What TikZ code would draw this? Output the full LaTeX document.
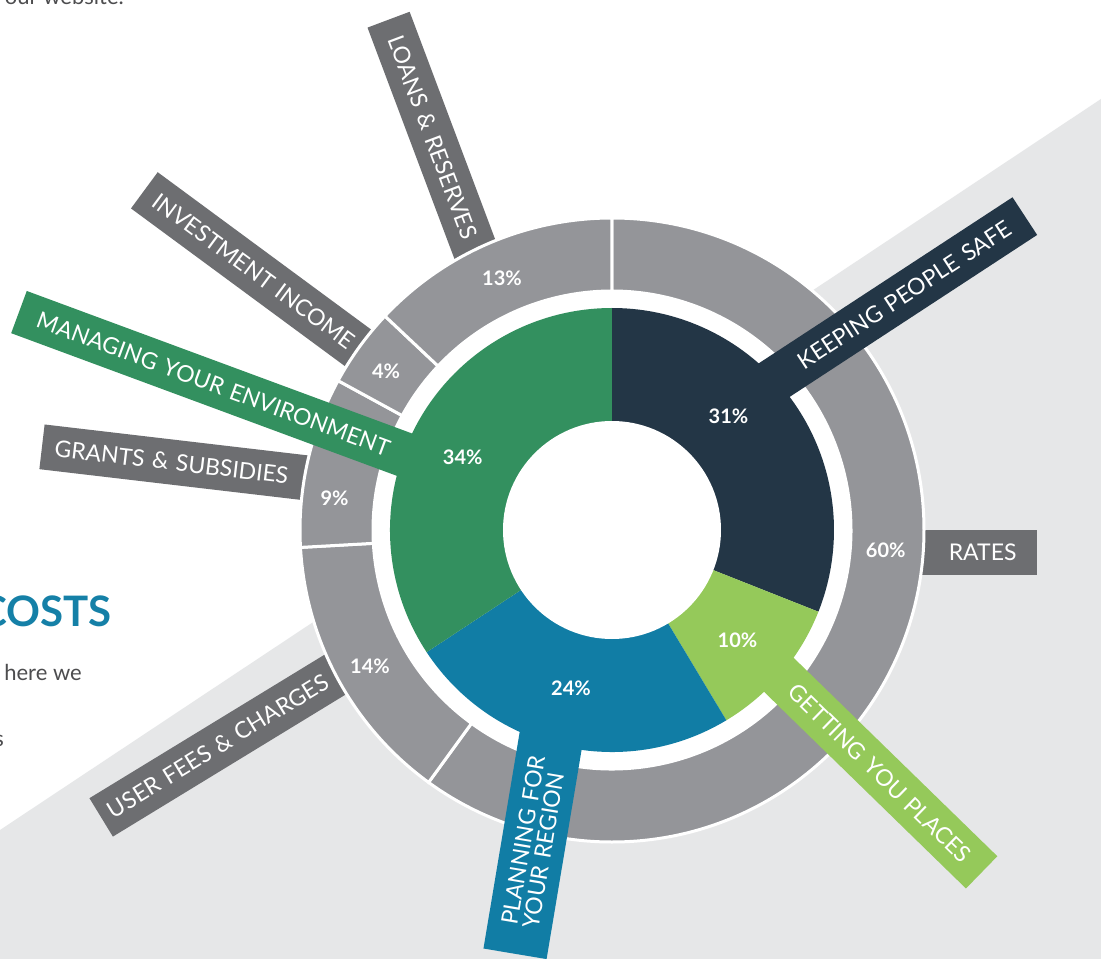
\documentclass[tikz,border=0pt]{standalone}
\usepackage{fontspec}
\setmainfont{Lato}
\usepackage{xcolor}
\usepackage{tikz}
\definecolor{keepnavy}{RGB}{35,54,70}
\definecolor{placesgreen}{RGB}{149,201,90}
\definecolor{regionblue}{RGB}{17,125,165}
\definecolor{envgreen}{RGB}{51,144,95}
\definecolor{ringgray}{RGB}{148,149,153}
\definecolor{tabgray}{RGB}{109,110,113}
\definecolor{bandgray}{RGB}{230,231,232}
\definecolor{bodygray}{RGB}{77,77,79}
\definecolor{headblue}{RGB}{21,128,167}
\tikzset{
	tab/.style={
		text=white,
		font=\fontsize{23}{21.5}\selectfont,
		minimum height=45pt,
		inner xsep=18pt,
		inner ysep=0pt
	},
	ringseg/.style={
		fill=ringgray,
		draw=white,
		line width=3pt
	},
	pct/.style={
		text=white,
		font=\bfseries\fontsize{20}{20}\selectfont,
		inner sep=0pt
	},
	body/.style={
		text=bodygray,
		font=\fontsize{22}{26}\selectfont,
		inner sep=0pt,
		anchor=base east
	}
}

\begin{document}
\begin{tikzpicture}[x=1pt, y=1pt]
	\useasboundingbox (-612,-429) rectangle (489,530);
	\fill[white] (-612,-429) rectangle (489,530);
	\fill[bandgray] (-612,-300) -- (489,431) -- (489,-429) -- (-612,-429) -- cycle;

	\node[body, text=headblue, font=\bfseries\fontsize{42}{42}\selectfont] (costs) at (-500.3,-96.7) {COSTS};
	\node[body] (herewe) at (-530,-150) {here we};
	\node[body] (tail) at (-608,-216.7) {s};
	\node[body] (website) at (-488,525) {our website.};

	% income
	\node[tab, fill=tabgray, rotate=-69.4, anchor=west, align=left, text width=242pt] (loans) at (-223.5,510.5) {LOANS \& RESERVES};
	\node[tab, fill=tabgray, rotate=-36.4, anchor=west, align=left, inner xsep=14pt, text width=270pt] (invest) at (-467.8,339.8) {INVESTMENT INCOME};
	\node[tab, fill=tabgray, rotate=-6.7, anchor=west, align=left, inner xsep=13pt, text width=270pt] (grants) at (-570.2,83.2) {GRANTS \& SUBSIDIES};
	\node[tab, fill=tabgray, rotate=31.4, anchor=west, align=left, inner xsep=10pt, text width=286pt] (fees) at (-511,-287.5) {USER FEES \& CHARGES};
	\node[tab, fill=tabgray, anchor=east, align=right, inner xsep=20pt, text width=105pt] (rates) at (424.7,-22) {RATES};

	\fill[white] (0,0) circle[radius=312pt];
	\foreach \a/\b in {90/-126, -126/-176.8, -176.8/-208.6, -208.6/-223.3, -223.3/-270} {
		\draw[ringseg] (\a:312) arc[start angle=\a, end angle=\b, radius=312pt] -- (\b:239) arc[start angle=\b, end angle=\a, radius=239pt] -- cycle;
	}
	\foreach \a/\b/\c in {90/-21.6/keepnavy, -21.6/-59/placesgreen, -59/-146.6/regionblue, -146.6/-270/envgreen} {
		\fill[\c] (0,0) -- (\a:222) arc[start angle=\a, end angle=\b, radius=222pt] -- cycle;
	}
	\fill[white] (0,0) circle[radius=109pt];

	% spending
	\node[tab, fill=keepnavy, rotate=33.2, anchor=east, align=right, inner xsep=19pt, text width=312pt] (safe) at (413,314) {KEEPING PEOPLE SAFE};
	\node[tab, fill=placesgreen, rotate=-44.25, anchor=east, align=right, inner xsep=20pt, text width=294pt] (places) at (369.8,-342.5) {GETTING YOU PLACES};
	\node[tab, fill=regionblue, rotate=80.5, anchor=west, align=left, minimum height=64pt, inner xsep=28pt, text width=210pt] (region) at (-97,-424) {PLANNING FOR\\YOUR REGION};
	\node[tab, fill=envgreen, rotate=-20.3, anchor=west, align=left, inner xsep=20pt, text width=422pt] (environment) at (-593.2,218) {MANAGING YOUR ENVIRONMENT};

	\node[pct] (p13) at (-110,251.7) {13\%};
	\node[pct] (p4) at (-226,159) {4\%};
	\node[pct] (p9) at (-277.5,32) {9\%};
	\node[pct] (p14) at (-242,-136) {14\%};
	\node[pct] (p60) at (273.7,-20.5) {60\%};
	\node[pct] (p31) at (116.5,114) {31\%};
	\node[pct] (p10) at (125.5,-110) {10\%};
	\node[pct] (p24) at (-41,-158) {24\%};
	\node[pct] (p34) at (-149.3,72.8) {34\%};
\end{tikzpicture}
\end{document}
